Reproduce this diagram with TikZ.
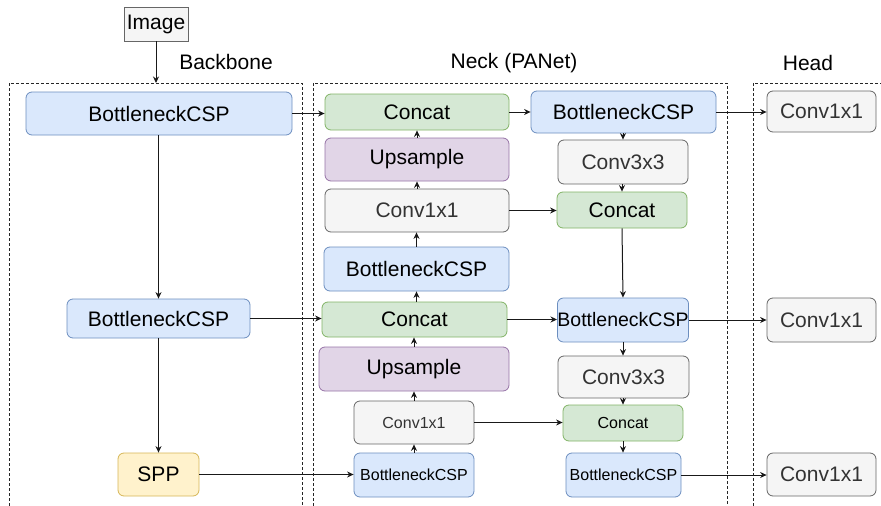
\documentclass[tikz,border=0pt]{standalone}
\usepackage{fontspec}
\setmainfont{Liberation Sans}
\usetikzlibrary{arrows.meta}
\definecolor{bfill}{HTML}{DAE8FC}\definecolor{bline}{HTML}{6C8EBF}
\definecolor{gfill}{HTML}{D5E8D4}\definecolor{gline}{HTML}{82B366}
\definecolor{pfill}{HTML}{E1D5E7}\definecolor{pline}{HTML}{9673A6}
\definecolor{nfill}{HTML}{F5F5F5}\definecolor{nline}{HTML}{666666}\definecolor{ntext}{HTML}{333333}
\definecolor{yfill}{HTML}{FFF2CC}\definecolor{yline}{HTML}{D6B656}
\tikzset{
  box/.style={draw, rounded corners=6pt, inner sep=0pt, line width=0.8pt, font=\fontsize{21}{24}\selectfont},
  sz/.style 2 args={minimum width=#1pt, minimum height=#2pt},
  small/.style={font=\fontsize{16}{19}\selectfont},
  mid/.style={font=\fontsize{19.5}{23}\selectfont},
  blue/.style={box, fill=bfill, draw=bline},
  green/.style={box, fill=gfill, draw=gline},
  purple/.style={box, fill=pfill, draw=pline},
  grey/.style={box, fill=nfill, draw=nline, text=ntext},
  yellow/.style={box, fill=yfill, draw=yline},
  conn/.style={draw=black!90, line width=1pt, -{Stealth[length=6.5pt,width=6pt]}},
  dbox/.style={draw=black!85, line width=0.8pt, dash pattern=on 3pt off 2pt},
  title/.style={font=\fontsize{21}{24}\selectfont, inner sep=0pt}
}
\begin{document}
\begin{tikzpicture}[x=1pt,y=-1pt]
\useasboundingbox (0,0) rectangle (881,506);
% dashed group boxes
\draw[dbox] (9,506) -- (9,83) -- (302,83) -- (302,506);
\draw[dbox] (313,506) -- (313,83) -- (727,83) -- (727,506);
\draw[dbox] (753,506) -- (753,83) -- (881,83);
% titles
\node[title] (tbb) at (226,62) {Backbone};
\node[title] (tnk) at (514,63) {Neck (PANet)};
\node[title] (thd) at (808,63) {Head};
% image
\node[draw=nline, fill=nfill, line width=0.8pt, inner sep=0pt, minimum width=64pt, minimum height=34pt, font=\fontsize{21}{24}\selectfont] (img) at (156,24) {Image};
\coordinate (bbtop) at (156,83);
% backbone
\node[blue, sz={266}{43}] (bb1) at (159,113.5) {BottleneckCSP};
\node[blue, sz={183}{39}] (bb2) at (158.5,318.5) {BottleneckCSP};
\node[yellow, sz={81}{43}] (spp) at (158.5,474.5) {SPP};
% neck left column
\node[green, sz={184}{36}] (c1) at (417,112) {Concat};
\node[purple, sz={184}{43}] (up1) at (417,159.5) {Upsample};
\node[grey, sz={184}{43}] (cv1) at (417,210.5) {Conv1x1};
\node[blue, sz={185}{44}] (nb1) at (416.5,269) {BottleneckCSP};
\node[green, sz={185}{35}] (c2) at (414.5,319.5) {Concat};
\node[purple, sz={190}{44}] (up2) at (414,369) {Upsample};
\node[grey, small, sz={120}{43}] (cv2) at (414,422.5) {Conv1x1};
\node[blue, small, sz={120}{44}] (nb2) at (414,475) {BottleneckCSP};
% neck right column
\node[blue, sz={185}{42}] (rb1) at (623.5,112) {BottleneckCSP};
\node[grey, sz={130}{44}] (r3a) at (623,162) {Conv3x3};
\node[green, sz={130}{36}] (rc1) at (622,210) {Concat};
\node[blue, mid, sz={130}{44}] (rb2) at (623,320) {BottleneckCSP};
\node[grey, sz={131}{42}] (r3b) at (623.5,377) {Conv3x3};
\node[green, small, sz={120}{36}] (rc2) at (623,423) {Concat};
\node[blue, small, sz={115}{44}] (rb3) at (623.5,475) {BottleneckCSP};
% head
\node[grey, sz={109}{41}] (h1) at (821.5,111.5) {Conv1x1};
\node[grey, sz={109}{44}] (h2) at (821.5,320) {Conv1x1};
\node[grey, sz={109}{43}] (h3) at (821.5,474.5) {Conv1x1};
% connectors
\draw[conn] (img.south) -- (bbtop);
\draw[conn] (bb1.east) -- (bb1.east -| c1.west);
\draw[conn] (bb1.south -| bb2.north) -- (bb2.north);
\draw[conn] (bb2.south) -- (bb2.south |- spp.north);
\draw[conn] (bb2.east) -- (bb2.east -| c2.west);
\draw[conn] (spp.east) -- (spp.east -| nb2.west);
\draw[conn] (nb2.north) -- (nb2.north |- cv2.south);
\draw[conn] (cv2.north) -- (cv2.north |- up2.south);
\draw[conn] (up2.north) -- (up2.north |- c2.south);
\draw[conn] (c2.north -| nb1.south) -- (nb1.south);
\draw[conn] (nb1.north) -- (nb1.north |- cv1.south);
\draw[conn] (cv1.north) -- (up1.south);
\draw[conn] (up1.north) -- (c1.south);
\draw[conn] (c1.east) -- (c1.east -| rb1.west);
\draw[conn] (rb1.south -| r3a.north) -- (r3a.north);
\draw[conn] (r3a.south -| rc1.north) -- (rc1.north);
\draw[conn] (cv1.east) -- (cv1.east -| rc1.west);
\draw[conn] (rc1.south) -- (rb2.north);
\draw[conn] (c2.east) -- (c2.east -| rb2.west);
\draw[conn] (rb2.south) -- (rb2.south |- r3b.north);
\draw[conn] (r3b.south -| rc2.north) -- (rc2.north);
\draw[conn] (cv2.east) -- (cv2.east -| rc2.west);
\draw[conn] (rc2.south) -- (rc2.south |- rb3.north);
\draw[conn] (rb1.east) -- (rb1.east -| h1.west);
\draw[conn] (rb2.east) -- (rb2.east -| h2.west);
\draw[conn] (rb3.east) -- (rb3.east -| h3.west);
\end{tikzpicture}
\end{document}
